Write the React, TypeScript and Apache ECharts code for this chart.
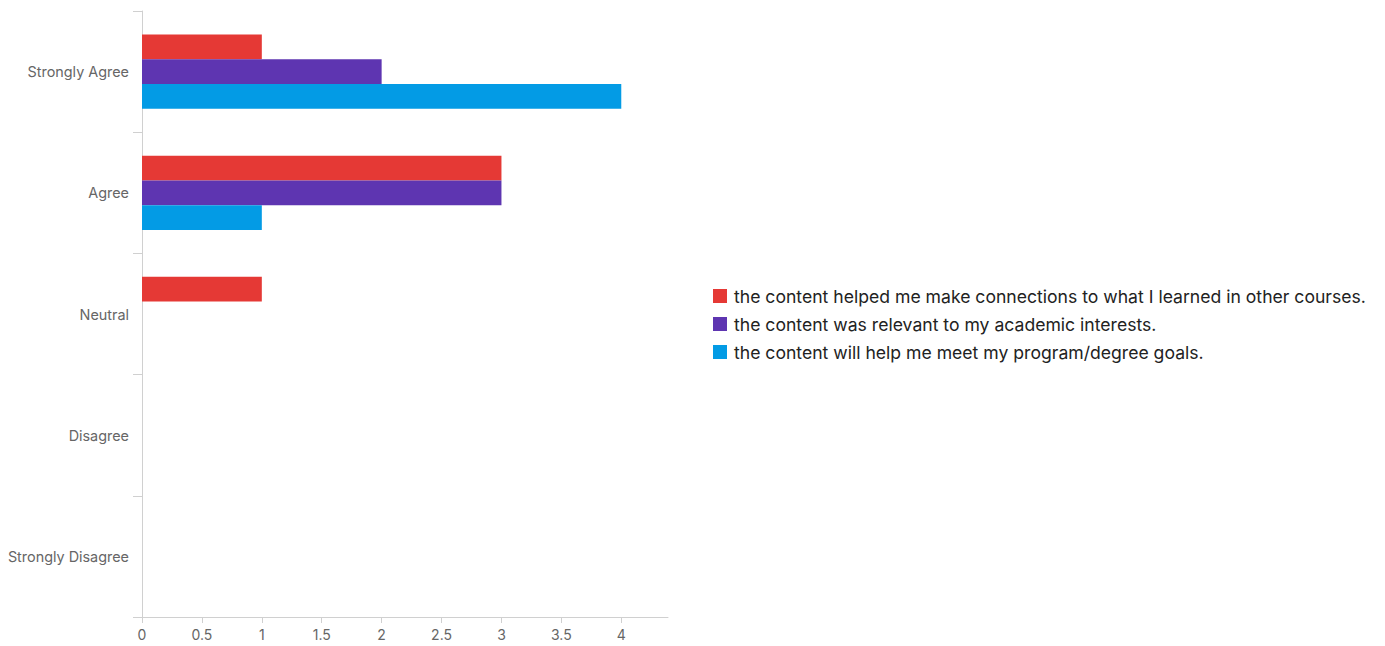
import React, { useEffect, useRef } from "react";
import * as echarts from "echarts";

const categories = ["Strongly Agree", "Agree", "Neutral", "Disagree", "Strongly Disagree"];
const seriesNames = [
  "the content helped me make connections to what I learned in other courses.",
  "the content was relevant to my academic interests.",
  "the content will help me meet my program/degree goals.",
];
const connectionsValues = [1, 3, 1, 0, 0];
const relevantValues = [2, 3, 0, 0, 0];
const goalsValues = [4, 1, 0, 0, 0];
const xTickValues = [0, 0.5, 1, 1.5, 2, 2.5, 3, 3.5, 4];
const colors = ["#E53935", "#5E35B1", "#039BE5"];

export default function App() {
  const ref = useRef<HTMLDivElement>(null);
  useEffect(() => {
    if (!ref.current) return;
    const chart = echarts.init(ref.current, null, { renderer: "svg" });
    const data = [connectionsValues, relevantValues, goalsValues];
    chart.setOption({
      animation: false,
      color: colors,
      textStyle: { fontFamily: "Inter" },
      grid: { left: 142, right: 717, top: 11, bottom: 29, containLabel: false },
      legend: {
        orient: "vertical",
        left: 713,
        top: 287,
        padding: 0,
        itemWidth: 14,
        itemHeight: 14,
        itemGap: 10,
        icon: "rect",
        textStyle: { fontSize: 17.6, lineHeight: 18, color: "#222", fontFamily: "Inter", padding: [0, 0, 0, 2] },
        data: seriesNames,
      },
      xAxis: {
        type: "value",
        min: 0,
        max: 4.39,
        splitLine: { show: false },
        axisLine: { show: true, lineStyle: { color: "#d0d0d0" } },
        axisTick: { show: true, length: 6, customValues: xTickValues, lineStyle: { color: "#d0d0d0" } },
        axisLabel: { customValues: xTickValues, color: "#666", fontSize: 14, margin: 10, fontFamily: "Inter" },
      },
      yAxis: {
        type: "category",
        data: categories,
        inverse: true,
        axisLine: { show: true, lineStyle: { color: "#d0d0d0" } },
        axisTick: { show: true, length: 9, lineStyle: { color: "#d0d0d0" } },
        axisLabel: { color: "#666", fontSize: 14.4, margin: 13, fontFamily: "Inter", padding: [2, 0, 0, 0] },
      },
      series: seriesNames.map((name, i) => ({
        name,
        type: "bar",
        data: data[i],
        barGap: "0%",
        barCategoryGap: "38.7%",
      })),
    });
    return () => chart.dispose();
  }, []);
  return <div ref={ref} style={{ width: 1385, height: 646, position: "absolute", left: 0, top: 0 }} />;
}
